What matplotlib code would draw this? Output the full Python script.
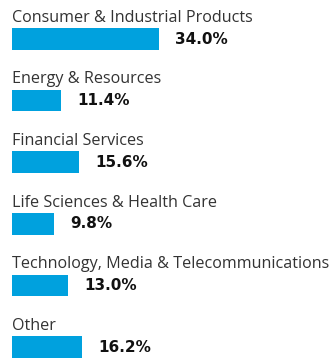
import numpy as np
import matplotlib
matplotlib.use("Agg")
import matplotlib.pyplot as plt

# Share of revenue by industry
categories = [
    "Consumer & Industrial Products",
    "Energy & Resources",
    "Financial Services",
    "Life Sciences & Health Care",
    "Technology, Media & Telecommunications",
    "Other",
]
shares = [34.0, 11.4, 15.6, 9.8, 13.0, 16.2]
value_labels = ["34.0%", "11.4%", "15.6%", "9.8%", "13.0%", "16.2%"]

BAR_COLOR = "#00a1de"
TEXT_COLOR = "#333333"
W, H, DPI = 334, 358, 100

plt.rcParams["font.family"] = ["Open Sans", "DejaVu Sans"]

fig = plt.figure(figsize=(W / DPI, H / DPI), dpi=DPI)
ax = fig.add_axes([0, 0, 1, 1])

px_per_unit = 4.32   # horizontal pixels per percentage point
row_px = 61.6        # vertical spacing between rows
left_px = 12
first_center_px = 39

ax.set_xlim(-left_px / px_per_unit, (W - left_px) / px_per_unit)
ax.set_ylim((H - first_center_px) / row_px, -first_center_px / row_px)
ax.axis("off")

ypos = np.arange(len(categories))
bar_h = 21.5 / row_px
ax.barh(ypos, shares, height=bar_h, color=BAR_COLOR, left=0)

for i, (cat, val, lab) in enumerate(zip(categories, shares, value_labels)):
    ax.text(0, i - bar_h / 2 - 6.5 / row_px, cat, fontsize=11.6,
            color=TEXT_COLOR, va="baseline", ha="left")
    ax.annotate(lab, xy=(val, i), xytext=(16, 0), textcoords="offset pixels",
                fontsize=11, fontweight="bold", family="DejaVu Sans",
                color="#111111", va="center", ha="left")

fig.savefig("out.png", dpi=DPI)
